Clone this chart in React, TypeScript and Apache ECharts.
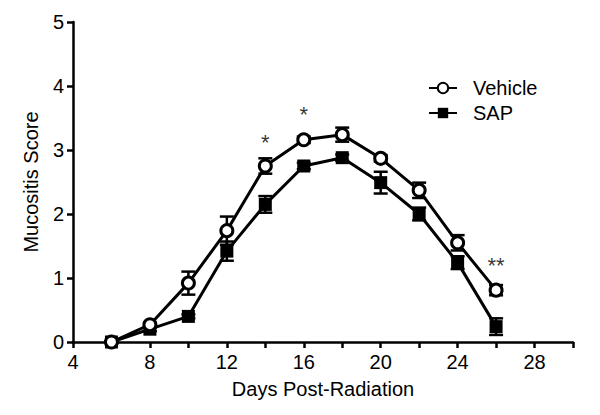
import React, { useEffect, useRef } from "react";
import * as echarts from "echarts";

const days = [6, 8, 10, 12, 14, 16, 18, 20, 22, 24, 26];
const vehicleMean = [0, 0.27, 0.92, 1.74, 2.75, 3.16, 3.24, 2.87, 2.37, 1.55, 0.81];
const vehicleErr = [0, 0.03, 0.18, 0.22, 0.12, 0.05, 0.11, 0.05, 0.12, 0.12, 0.08];
const sapMean = [0, 0.2, 0.4, 1.42, 2.15, 2.75, 2.88, 2.49, 2.0, 1.24, 0.24];
const sapErr = [0, 0.03, 0.03, 0.15, 0.13, 0.05, 0.05, 0.17, 0.1, 0.1, 0.13];
const starDays = [14, 16, 26];
const starLabels = ["*", "*", "**"];
const starY = [3.12, 3.56, 1.2];

const FONT = "Liberation Sans, Arial, sans-serif";

function errSeries(mean: number[], err: number[]) {
  return {
    type: "custom",
    z: 1,
    silent: true,
    data: days.map((d, i) => [d, mean[i] - err[i], mean[i] + err[i]]),
    renderItem: (params: any, api: any) => {
      const x = api.value(0);
      const lo = api.coord([x, api.value(1)]);
      const hi = api.coord([x, api.value(2)]);
      const cap = 7;
      const style = { stroke: "#000", lineWidth: 2.5 };
      return {
        type: "group",
        children: [
          { type: "line", shape: { x1: lo[0], y1: lo[1], x2: hi[0], y2: hi[1] }, style },
          { type: "line", shape: { x1: lo[0] - cap, y1: lo[1], x2: lo[0] + cap, y2: lo[1] }, style },
          { type: "line", shape: { x1: hi[0] - cap, y1: hi[1], x2: hi[0] + cap, y2: hi[1] }, style },
        ],
      };
    },
  };
}

export default function App() {
  const ref = useRef<HTMLDivElement>(null);
  useEffect(() => {
    const chart = echarts.init(ref.current!, undefined, { renderer: "svg" });
    chart.setOption({
      animation: false,
      grid: { left: 73, right: 27, top: 22, bottom: 73 },
      legend: {
        orient: "vertical",
        left: 423,
        top: 73,
        itemWidth: 28,
        itemHeight: 13,
        itemGap: 5,
        textStyle: { fontFamily: FONT, fontSize: 20, color: "#000", padding: [0, 0, 0, 11] },
        data: ["Vehicle", "SAP"],
      },
      xAxis: {
        type: "value",
        min: 4,
        max: 30,
        interval: 2,
        name: "Days Post-Radiation",
        nameLocation: "middle",
        nameGap: 37,
        nameTextStyle: { fontFamily: FONT, fontSize: 20, color: "#000" },
        splitLine: { show: false },
        axisLine: { lineStyle: { color: "#000", width: 2.5 } },
        axisTick: { length: 6, lineStyle: { color: "#000", width: 2.5 } },
        axisLabel: {
          fontFamily: FONT,
          fontSize: 20,
          color: "#000",
          margin: 10,
          formatter: (v: number) => (v % 4 === 0 && v !== 30 ? String(v) : ""),
        },
      },
      yAxis: {
        type: "value",
        min: 0,
        max: 5,
        interval: 1,
        name: "Mucositis Score",
        nameLocation: "middle",
        nameGap: 32,
        nameTextStyle: { fontFamily: FONT, fontSize: 20, color: "#000" },
        splitLine: { show: false },
        axisLine: { show: true, lineStyle: { color: "#000", width: 2.5 } },
        axisTick: { show: true, length: 6, lineStyle: { color: "#000", width: 2.5 } },
        axisLabel: { fontFamily: FONT, fontSize: 20, color: "#000", margin: 9 },
      },
      series: [
        errSeries(vehicleMean, vehicleErr),
        errSeries(sapMean, sapErr),
        {
          name: "SAP",
          type: "line",
          z: 3,
          data: days.map((d, i) => [d, sapMean[i]]),
          symbol: "rect",
          symbolSize: 13,
          showAllSymbol: true,
          lineStyle: { color: "#000", width: 3 },
          itemStyle: { color: "#000", borderColor: "#000", borderWidth: 0 },
        },
        {
          name: "Vehicle",
          type: "line",
          z: 4,
          data: days.map((d, i) => [d, vehicleMean[i]]),
          symbol: "circle",
          symbolSize: 12,
          showAllSymbol: true,
          lineStyle: { color: "#000", width: 3 },
          itemStyle: { color: "#fff", borderColor: "#000", borderWidth: 3 },
        },
        {
          type: "scatter",
          z: 5,
          silent: true,
          symbolSize: 0,
          data: starDays.map((d, i) => ({ value: [d, starY[i]], label: { formatter: starLabels[i] } })),
          label: {
            show: true,
            position: "inside",
            fontFamily: FONT,
            fontSize: 22,
            color: "#000",
          },
        },
      ],
    });
    return () => chart.dispose();
  }, []);
  return <div ref={ref} style={{ width: 600, height: 415, position: "absolute", left: 0, top: 0 }} />;
}
